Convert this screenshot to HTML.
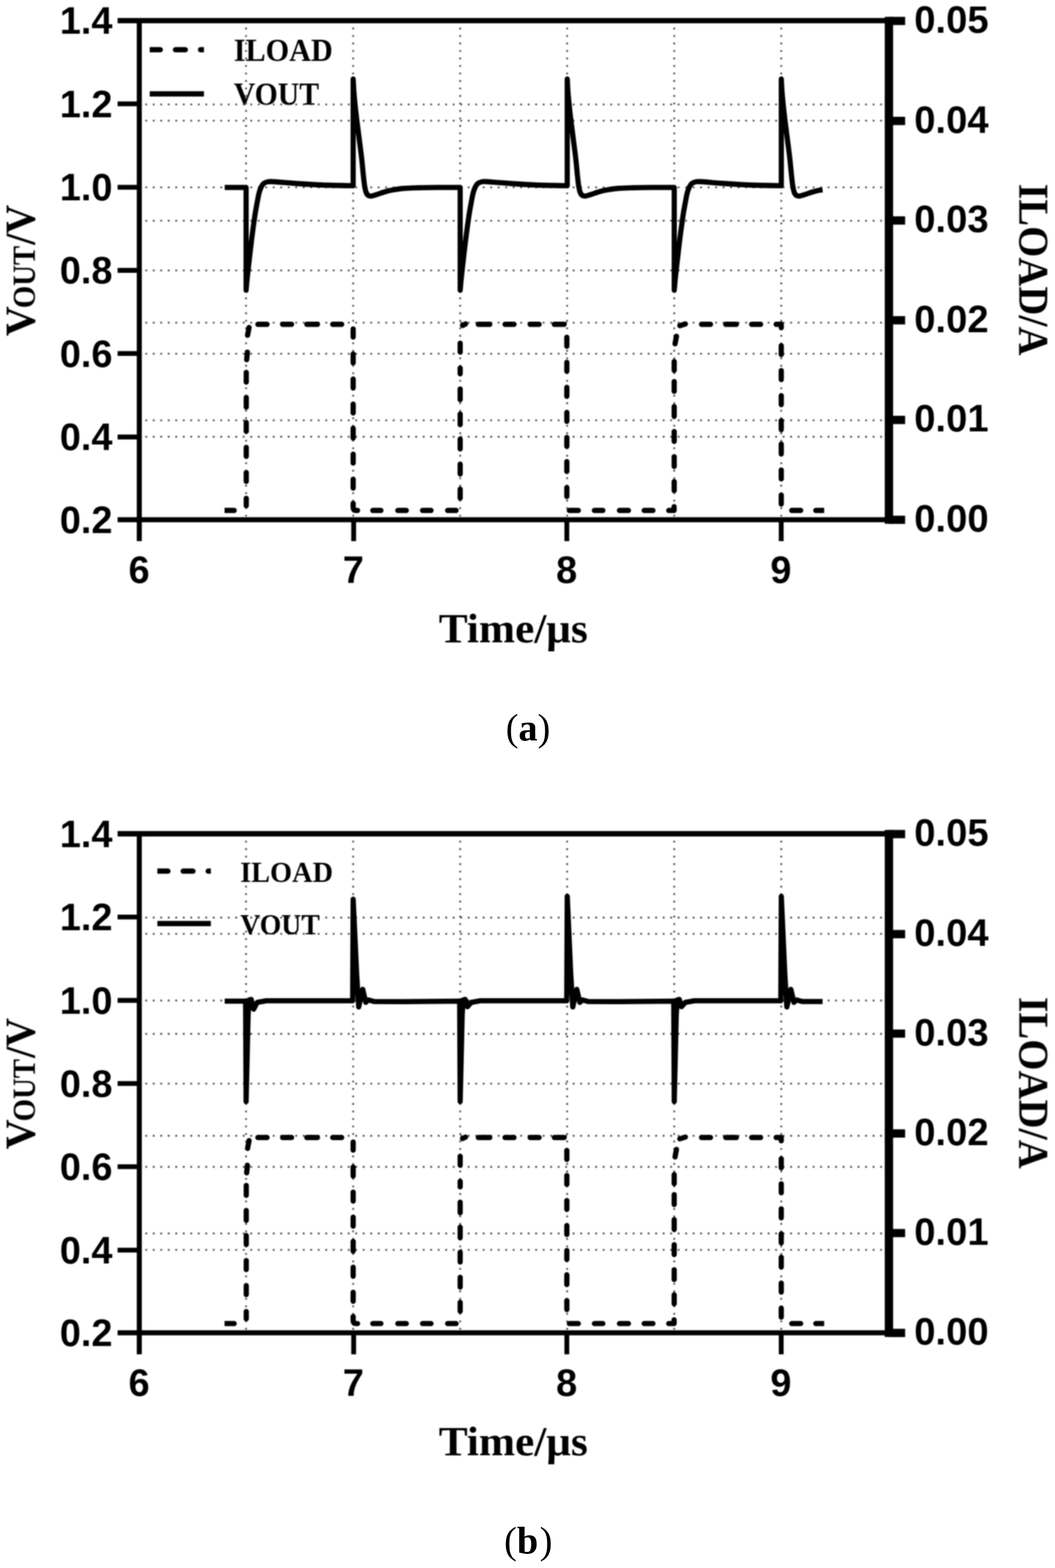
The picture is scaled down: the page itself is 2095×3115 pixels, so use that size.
<!DOCTYPE html>
<html lang="en">
<head>
<meta charset="utf-8">
<title>Load transient response</title>
<style>
html,body{margin:0;padding:0;background:#fff;}
body{width:2095px;height:3115px;overflow:hidden;}
svg{display:block;}
text{fill:#000;}
</style>
</head>
<body>
<svg width="2095" height="3115" viewBox="0 0 2095 3115">
<defs><filter id="soft" filterUnits="userSpaceOnUse" x="0" y="0" width="2095" height="1340" color-interpolation-filters="sRGB"><feGaussianBlur stdDeviation="0.85"/></filter></defs>
<rect width="2095" height="3115" fill="#fff"/>
<g transform="translate(0 0)">
<g filter="url(#soft)">
<clipPath id="lca"><rect x="297.3" y="88.8" width="107.69999999999999" height="20"/></clipPath>
<path d="M298.8 98.8H425" clip-path="url(#lca)" fill="none" stroke="#000" stroke-width="10.5" stroke-linecap="round" stroke-dasharray="19.5 30.2"/>
<path d="M297.3 186.4H405" fill="none" stroke="#000" stroke-width="10.5"/>
<text transform="translate(464.2 120.6) scale(0.945 1)" font-family="'Liberation Serif', serif" font-weight="700" font-size="63.5">ILOAD</text>
<text transform="translate(464.2 208.2) scale(0.93 1)" font-family="'Liberation Serif', serif" font-weight="700" font-size="63.5">VOUT</text>
<path d="M488.6 54.8V1026 M701.3 54.8V1026 M913.8 54.8V1026 M1126.2 54.8V1026 M1338.8 54.8V1026 M1551.4 54.8V1026 M288.6 207.5H1756 M288.6 239.8H1756 M288.6 372.2H1756 M288.6 438.5H1756 M288.6 537.3H1756 M288.6 641.0H1756 M288.6 702.7H1756 M288.6 835.0H1756 M288.6 867.6H1756" fill="none" stroke="#505050" stroke-width="3.6" stroke-dasharray="3.6 11.29"/>
<path d="M740.3 1014.0H756.4 M790.0 1014.0H806.8 M839.1 1014.0H855.9 M888.9 1014.0H905.7 M1130.6 1014.0H1148.4 M1180.4 1014.0H1197.1 M1230.1 1014.0H1247.9 M1279.2 1014.0H1296.6 M1572.2 1014.0H1590.0 M512.1 644.3H530.3 M561.2 644.3H579.0 M609.3 644.3H630.4 M660.7 644.3H678.5 M949.9 644.3H972.6 M1002.9 644.3H1020.7 M1052.7 644.3H1070.5 M1100.8 644.3H1120.2 M1393.1 644.3H1410.9 M1441.2 644.3H1462.3 M1492.6 644.3H1510.4 M489.0 990.0V1004.5 M489.0 938.6V956.4 M489.0 888.8V906.6 M489.0 839.1V856.9 M489.0 789.4V808.8 M489.0 739.6V759.1 M701.3 653.4V669.5 M701.3 703.1V720.9 M701.3 752.9V770.7 M701.3 802.6V820.4 M701.3 850.7V870.2 M701.3 902.1V919.9 M701.3 951.9V969.6 M913.8 971.7V989.5 M913.8 922.0V941.5 M913.8 872.3V891.7 M913.8 822.5V843.6 M913.8 772.8V793.9 M913.8 731.3V742.5 M913.8 681.6V699.4 M1125.6 670.0V687.8 M1125.6 719.7V737.5 M1125.6 769.5V787.2 M1125.6 819.2V837.0 M1125.6 868.9V886.7 M1125.6 917.0V936.5 M1125.6 968.4V986.2 M1338.8 956.8V974.6 M1338.8 907.1V926.5 M1338.8 857.3V876.8 M1338.8 807.6V827.0 M1338.8 757.9V777.3 M1338.8 718.1V735.8 M1551.4 686.6V704.3 M1551.4 736.3V754.1 M1551.4 786.0V803.8 M1551.4 835.8V853.6 M1551.4 882.2V901.7 M1551.4 933.6V951.4 M1551.4 983.4V1001.2 M489.8 714.5L491.3 699.6 M491.6 666L494.6 650.5 M701.3 1000L701.3 1008Q701.3 1014.0 706.5 1014.0L710 1014.0 M918.5 646.5L924.5 643.5 M1328 1014.0L1338.6 1014.0L1338.6 1006.5 M1340.5 683L1343.3 668 M1350 647L1361 643.5 M1541.3 644.3L1551.4 644.3L1551.4 651" fill="none" stroke="#000" stroke-width="10.4" stroke-linecap="round" stroke-linejoin="round"/>
<path d="M445.9 1014.0H465M1620 1014.0H1636.6" fill="none" stroke="#000" stroke-width="10.4"/>
<circle cx="465" cy="1014.0" r="5.2"/><circle cx="1620" cy="1014.0" r="5.2"/>
<path d="M446.2 372.3 L488.7 372.3 L488.7 576.5 C489.2 570.9 490.0 560.1 491.9 543.0 C493.8 525.9 497.5 493.1 499.9 474.0 C502.3 454.9 504.4 440.0 506.1 428.5 C507.8 417.0 508.8 412.3 510.2 405.0 C511.6 397.7 512.8 390.1 514.2 384.5 C515.6 378.9 517.1 374.8 518.7 371.5 C520.3 368.2 521.6 366.2 523.7 364.5 C525.8 362.8 528.1 361.8 531.4 361.2 C534.7 360.6 534.2 360.4 543.7 361.0 C553.2 361.6 572.9 363.4 588.7 364.5 C604.5 365.6 619.9 366.8 638.7 367.5 C657.5 368.2 690.9 368.8 701.3 369.0 L701.3 157 C701.6 162.0 702.2 176.2 703.1 187.0 C704.0 197.8 705.1 208.5 706.6 222.0 C708.1 235.5 710.4 252.7 712.3 268.0 C714.2 283.3 716.6 300.7 718.1 314.0 C719.6 327.3 720.5 338.5 721.5 348.0 C722.5 357.5 723.2 364.8 724.3 371.0 C725.4 377.2 726.4 381.9 728.3 385.0 C730.2 388.1 732.7 389.2 735.7 389.5 C738.7 389.8 742.0 388.2 746.3 387.0 C750.6 385.8 756.3 383.5 761.3 382.0 C766.3 380.5 770.0 379.2 776.3 378.0 C782.6 376.8 790.1 375.3 799.3 374.5 C808.5 373.7 819.3 373.4 831.3 373.0 C843.3 372.6 857.6 372.5 871.3 372.4 C885.0 372.3 906.6 372.3 913.7 372.3 L913.8 372.3 L913.8 576.5 C914.3 570.9 915.1 560.1 917.0 543.0 C918.9 525.9 922.6 493.1 925.0 474.0 C927.4 454.9 929.5 440.0 931.2 428.5 C932.9 417.0 933.9 412.3 935.3 405.0 C936.6 397.7 937.9 390.1 939.3 384.5 C940.7 378.9 942.2 374.8 943.8 371.5 C945.4 368.2 946.7 366.2 948.8 364.5 C950.9 362.8 953.2 361.8 956.5 361.2 C959.8 360.6 959.2 360.4 968.8 361.0 C978.3 361.6 998.0 363.4 1013.8 364.5 C1029.6 365.6 1045.0 366.8 1063.8 367.5 C1082.6 368.2 1116.0 368.8 1126.4 369.0 L1126.4 157 C1126.7 162.0 1127.3 176.2 1128.2 187.0 C1129.1 197.8 1130.2 208.5 1131.7 222.0 C1133.2 235.5 1135.5 252.7 1137.4 268.0 C1139.3 283.3 1141.7 300.7 1143.2 314.0 C1144.7 327.3 1145.6 338.5 1146.6 348.0 C1147.6 357.5 1148.3 364.8 1149.4 371.0 C1150.5 377.2 1151.5 381.9 1153.4 385.0 C1155.3 388.1 1157.8 389.2 1160.8 389.5 C1163.8 389.8 1167.1 388.2 1171.4 387.0 C1175.7 385.8 1181.4 383.5 1186.4 382.0 C1191.4 380.5 1195.1 379.2 1201.4 378.0 C1207.7 376.8 1215.2 375.3 1224.4 374.5 C1233.6 373.7 1244.4 373.4 1256.4 373.0 C1268.4 372.6 1282.7 372.5 1296.4 372.4 C1310.1 372.3 1331.7 372.3 1338.8 372.3 L1338.9 372.3 L1338.9 576.5 C1339.4 570.9 1340.2 560.1 1342.1 543.0 C1344.0 525.9 1347.7 493.1 1350.1 474.0 C1352.5 454.9 1354.6 440.0 1356.3 428.5 C1358.0 417.0 1359.1 412.3 1360.4 405.0 C1361.8 397.7 1363.0 390.1 1364.4 384.5 C1365.8 378.9 1367.3 374.8 1368.9 371.5 C1370.5 368.2 1371.8 366.2 1373.9 364.5 C1376.0 362.8 1378.3 361.8 1381.6 361.2 C1384.9 360.6 1384.4 360.4 1393.9 361.0 C1403.5 361.6 1423.1 363.4 1438.9 364.5 C1454.7 365.6 1470.1 366.8 1488.9 367.5 C1507.7 368.2 1541.1 368.8 1551.5 369.0 L1551.5 157 C1551.8 162.0 1552.4 176.2 1553.3 187.0 C1554.2 197.8 1555.3 208.5 1556.8 222.0 C1558.3 235.5 1560.6 252.7 1562.5 268.0 C1564.4 283.3 1566.8 300.7 1568.3 314.0 C1569.8 327.3 1570.7 338.5 1571.7 348.0 C1572.7 357.5 1573.4 364.8 1574.5 371.0 C1575.6 377.2 1576.6 381.9 1578.5 385.0 C1580.4 388.1 1582.9 389.2 1585.9 389.5 C1588.9 389.8 1592.2 388.2 1596.5 387.0 C1600.8 385.8 1606.5 383.5 1611.5 382.0 C1616.5 380.5 1622.8 378.8 1626.5 378.0 C1630.2 377.2 1632.3 377.4 1633.5 377.3" fill="none" stroke="#000" stroke-width="10.3" stroke-linejoin="round" stroke-linecap="butt"/>
<path d="M233.5 41.0H1773" fill="none" stroke="#000" stroke-width="10.6"/>
<path d="M276.6 36.1V1075" fill="none" stroke="#000" stroke-width="10"/>
<path d="M233.5 1032.4H1773" fill="none" stroke="#000" stroke-width="10"/>
<path d="M1765.2 33.4V1040.6" fill="none" stroke="#000" stroke-width="16.6"/>
<path d="M233.5 206.3H277 M233.5 372.0H277 M233.5 537.1H277 M233.5 702.3H277 M233.5 868.1H277 M702.3 1032V1075 M1125.6 1032V1075 M1551.3 1032V1075" fill="none" stroke="#000" stroke-width="9.6"/>
<path d="M1765 41.6H1797.4 M1765 240.3H1797.4 M1765 438.0H1797.4 M1765 636.3H1797.4 M1765 834.2H1797.4 M1765 1032.6H1797.4" fill="none" stroke="#000" stroke-width="16.4"/>
<text transform="translate(223.4 67.3) scale(1 1)" text-anchor="end" font-family="'Liberation Sans', sans-serif" font-weight="700" font-size="75.3">1.4</text>
<text transform="translate(223.4 232.5) scale(1 1)" text-anchor="end" font-family="'Liberation Sans', sans-serif" font-weight="700" font-size="75.3">1.2</text>
<text transform="translate(223.4 398.2) scale(1 1)" text-anchor="end" font-family="'Liberation Sans', sans-serif" font-weight="700" font-size="75.3">1.0</text>
<text transform="translate(223.4 563.3) scale(1 1)" text-anchor="end" font-family="'Liberation Sans', sans-serif" font-weight="700" font-size="75.3">0.8</text>
<text transform="translate(223.4 728.5) scale(1 1)" text-anchor="end" font-family="'Liberation Sans', sans-serif" font-weight="700" font-size="75.3">0.6</text>
<text transform="translate(223.4 894.3) scale(1 1)" text-anchor="end" font-family="'Liberation Sans', sans-serif" font-weight="700" font-size="75.3">0.4</text>
<text transform="translate(223.4 1058.6) scale(1 1)" text-anchor="end" font-family="'Liberation Sans', sans-serif" font-weight="700" font-size="75.3">0.2</text>
<text transform="translate(1815.4 64.8) scale(1 1)" font-family="'Liberation Sans', sans-serif" font-weight="700" font-size="75.9">0.05</text>
<text transform="translate(1815.4 263.5) scale(1 1)" font-family="'Liberation Sans', sans-serif" font-weight="700" font-size="75.9">0.04</text>
<text transform="translate(1815.4 461.2) scale(1 1)" font-family="'Liberation Sans', sans-serif" font-weight="700" font-size="75.9">0.03</text>
<text transform="translate(1815.4 659.5) scale(1 1)" font-family="'Liberation Sans', sans-serif" font-weight="700" font-size="75.9">0.02</text>
<text transform="translate(1815.4 857.4) scale(1 1)" font-family="'Liberation Sans', sans-serif" font-weight="700" font-size="75.9">0.01</text>
<text transform="translate(1815.4 1055.8) scale(1 1)" font-family="'Liberation Sans', sans-serif" font-weight="700" font-size="75.9">0.00</text>
<text transform="translate(276.1 1157.5) scale(1 1)" text-anchor="middle" font-family="'Liberation Sans', sans-serif" font-weight="700" font-size="75.3">6</text>
<text transform="translate(701.8 1157.5) scale(1 1)" text-anchor="middle" font-family="'Liberation Sans', sans-serif" font-weight="700" font-size="75.3">7</text>
<text transform="translate(1125.1 1157.5) scale(1 1)" text-anchor="middle" font-family="'Liberation Sans', sans-serif" font-weight="700" font-size="75.3">8</text>
<text transform="translate(1550.8 1157.5) scale(1 1)" text-anchor="middle" font-family="'Liberation Sans', sans-serif" font-weight="700" font-size="75.3">9</text>
<text x="1019.2" y="1275.6" text-anchor="middle" font-family="'Liberation Serif', serif" font-weight="700" font-size="83.5" textLength="296" lengthAdjust="spacingAndGlyphs">Time/μs</text>
<g transform="translate(69.2 667.8) rotate(-90)" font-family="'Liberation Serif', serif" font-weight="700"><text x="0" y="0" font-size="84" textLength="59.5" lengthAdjust="spacingAndGlyphs">V</text><text x="55.5" y="0" font-size="63.5" textLength="124" lengthAdjust="spacingAndGlyphs">OUT</text><text x="181.5" y="0" font-size="84" textLength="79.5" lengthAdjust="spacingAndGlyphs">/V</text></g>
<text transform="translate(2023.6 365) rotate(90)" font-family="'Liberation Serif', serif" font-weight="700" font-size="84" textLength="341.3" lengthAdjust="spacingAndGlyphs">ILOAD/A</text>
</g>
<text y="1470.8" font-family="'Liberation Serif', serif" font-size="76"><tspan x="1004.3">(</tspan><tspan x="1029.6" font-weight="700">a</tspan><tspan x="1067.6">)</tspan></text>
</g>
<g transform="translate(0 1615.4)">
<g filter="url(#soft)">
<path d="M488.6 54.8V1026 M701.3 54.8V1026 M913.8 54.8V1026 M1126.2 54.8V1026 M1338.8 54.8V1026 M1551.4 54.8V1026 M288.6 207.5H1756 M288.6 239.8H1756 M288.6 372.2H1756 M288.6 438.5H1756 M288.6 537.3H1756 M288.6 641.0H1756 M288.6 702.7H1756 M288.6 835.0H1756 M288.6 867.6H1756" fill="none" stroke="#505050" stroke-width="3.6" stroke-dasharray="3.6 11.29"/>
<clipPath id="lcb"><rect x="312.5" y="105.2" width="106.19999999999999" height="20"/></clipPath>
<path d="M314.0 115.2H438.7" clip-path="url(#lcb)" fill="none" stroke="#000" stroke-width="10.5" stroke-linecap="round" stroke-dasharray="19.5 30.2"/>
<path d="M312.5 219.4H418.7" fill="none" stroke="#000" stroke-width="10.5"/>
<text transform="translate(477 137) scale(0.995 1)" font-family="'Liberation Serif', serif" font-weight="700" font-size="56.5">ILOAD</text>
<text transform="translate(477 241) scale(0.975 1)" font-family="'Liberation Serif', serif" font-weight="700" font-size="56.5">VOUT</text>
<path d="M740.3 1014.0H756.4 M790.0 1014.0H806.8 M839.1 1014.0H855.9 M888.9 1014.0H905.7 M1130.6 1014.0H1148.4 M1180.4 1014.0H1197.1 M1230.1 1014.0H1247.9 M1279.2 1014.0H1296.6 M1572.2 1014.0H1590.0 M512.1 644.3H530.3 M561.2 644.3H579.0 M609.3 644.3H630.4 M660.7 644.3H678.5 M949.9 644.3H972.6 M1002.9 644.3H1020.7 M1052.7 644.3H1070.5 M1100.8 644.3H1120.2 M1393.1 644.3H1410.9 M1441.2 644.3H1462.3 M1492.6 644.3H1510.4 M489.0 990.0V1004.5 M489.0 938.6V956.4 M489.0 888.8V906.6 M489.0 839.1V856.9 M489.0 789.4V808.8 M489.0 739.6V759.1 M701.3 653.4V669.5 M701.3 703.1V720.9 M701.3 752.9V770.7 M701.3 802.6V820.4 M701.3 850.7V870.2 M701.3 902.1V919.9 M701.3 951.9V969.6 M913.8 971.7V989.5 M913.8 922.0V941.5 M913.8 872.3V891.7 M913.8 822.5V843.6 M913.8 772.8V793.9 M913.8 731.3V742.5 M913.8 681.6V699.4 M1125.6 670.0V687.8 M1125.6 719.7V737.5 M1125.6 769.5V787.2 M1125.6 819.2V837.0 M1125.6 868.9V886.7 M1125.6 917.0V936.5 M1125.6 968.4V986.2 M1338.8 956.8V974.6 M1338.8 907.1V926.5 M1338.8 857.3V876.8 M1338.8 807.6V827.0 M1338.8 757.9V777.3 M1338.8 718.1V735.8 M1551.4 686.6V704.3 M1551.4 736.3V754.1 M1551.4 786.0V803.8 M1551.4 835.8V853.6 M1551.4 882.2V901.7 M1551.4 933.6V951.4 M1551.4 983.4V1001.2 M489.8 714.5L491.3 699.6 M491.6 666L494.6 650.5 M701.3 1000L701.3 1008Q701.3 1014.0 706.5 1014.0L710 1014.0 M918.5 646.5L924.5 643.5 M1328 1014.0L1338.6 1014.0L1338.6 1006.5 M1340.5 683L1343.3 668 M1350 647L1361 643.5 M1541.3 644.3L1551.4 644.3L1551.4 651" fill="none" stroke="#000" stroke-width="10.4" stroke-linecap="round" stroke-linejoin="round"/>
<path d="M445.9 1014.0H465M1620 1014.0H1636.6" fill="none" stroke="#000" stroke-width="10.4"/>
<circle cx="465" cy="1014.0" r="5.2"/><circle cx="1620" cy="1014.0" r="5.2"/>
<path d="M446.2 373.5 L487.7 373.5 L488.7 573 L492.7 400 L494.7 371 L498.7 370 L503.7 389.5 L510.7 376 L528.7 372.7 L700.3 372.7 L701.3 171 L708.3 320 L712.3 385 L720.3 350 L726.3 376 L731.3 371 L743.3 374.3 L801.3 374.5 L912.3 373.5 L912.8 373.5 L913.8 573 L917.8 400 L919.8 371 L923.8 370 L928.3 384.5 L935.8 376 L953.8 372.7 L1125.4 372.7 L1126.4 165.3 L1133.4 320 L1137.4 385 L1145.4 350 L1151.4 376 L1156.4 371 L1168.4 374.3 L1226.4 374.5 L1337.4 373.5 L1337.9 373.5 L1338.9 573 L1342.9 400 L1344.9 371 L1348.9 370 L1353.4 384.5 L1360.9 376 L1378.9 372.7 L1550.5 372.7 L1551.5 165.3 L1558.5 320 L1562.5 385 L1570.5 350 L1576.5 376 L1581.5 371 L1593.5 374.3 L1633.5 374.3" fill="none" stroke="#000" stroke-width="10.3" stroke-linejoin="round" stroke-linecap="butt"/>
<path d="M233.5 41.0H1773" fill="none" stroke="#000" stroke-width="10.6"/>
<path d="M276.6 36.1V1075" fill="none" stroke="#000" stroke-width="10"/>
<path d="M233.5 1032.4H1773" fill="none" stroke="#000" stroke-width="10"/>
<path d="M1765.2 33.4V1040.6" fill="none" stroke="#000" stroke-width="16.6"/>
<path d="M233.5 206.3H277 M233.5 372.0H277 M233.5 537.1H277 M233.5 702.3H277 M233.5 868.1H277 M702.3 1032V1075 M1125.6 1032V1075 M1551.3 1032V1075" fill="none" stroke="#000" stroke-width="9.6"/>
<path d="M1765 41.6H1797.4 M1765 240.3H1797.4 M1765 438.0H1797.4 M1765 636.3H1797.4 M1765 834.2H1797.4 M1765 1032.6H1797.4" fill="none" stroke="#000" stroke-width="16.4"/>
<text transform="translate(223.4 67.3) scale(1 1)" text-anchor="end" font-family="'Liberation Sans', sans-serif" font-weight="700" font-size="75.3">1.4</text>
<text transform="translate(223.4 232.5) scale(1 1)" text-anchor="end" font-family="'Liberation Sans', sans-serif" font-weight="700" font-size="75.3">1.2</text>
<text transform="translate(223.4 398.2) scale(1 1)" text-anchor="end" font-family="'Liberation Sans', sans-serif" font-weight="700" font-size="75.3">1.0</text>
<text transform="translate(223.4 563.3) scale(1 1)" text-anchor="end" font-family="'Liberation Sans', sans-serif" font-weight="700" font-size="75.3">0.8</text>
<text transform="translate(223.4 728.5) scale(1 1)" text-anchor="end" font-family="'Liberation Sans', sans-serif" font-weight="700" font-size="75.3">0.6</text>
<text transform="translate(223.4 894.3) scale(1 1)" text-anchor="end" font-family="'Liberation Sans', sans-serif" font-weight="700" font-size="75.3">0.4</text>
<text transform="translate(223.4 1058.6) scale(1 1)" text-anchor="end" font-family="'Liberation Sans', sans-serif" font-weight="700" font-size="75.3">0.2</text>
<text transform="translate(1815.4 64.8) scale(1 1)" font-family="'Liberation Sans', sans-serif" font-weight="700" font-size="75.9">0.05</text>
<text transform="translate(1815.4 263.5) scale(1 1)" font-family="'Liberation Sans', sans-serif" font-weight="700" font-size="75.9">0.04</text>
<text transform="translate(1815.4 461.2) scale(1 1)" font-family="'Liberation Sans', sans-serif" font-weight="700" font-size="75.9">0.03</text>
<text transform="translate(1815.4 659.5) scale(1 1)" font-family="'Liberation Sans', sans-serif" font-weight="700" font-size="75.9">0.02</text>
<text transform="translate(1815.4 857.4) scale(1 1)" font-family="'Liberation Sans', sans-serif" font-weight="700" font-size="75.9">0.01</text>
<text transform="translate(1815.4 1055.8) scale(1 1)" font-family="'Liberation Sans', sans-serif" font-weight="700" font-size="75.9">0.00</text>
<text transform="translate(276.1 1157.5) scale(1 1)" text-anchor="middle" font-family="'Liberation Sans', sans-serif" font-weight="700" font-size="75.3">6</text>
<text transform="translate(701.8 1157.5) scale(1 1)" text-anchor="middle" font-family="'Liberation Sans', sans-serif" font-weight="700" font-size="75.3">7</text>
<text transform="translate(1125.1 1157.5) scale(1 1)" text-anchor="middle" font-family="'Liberation Sans', sans-serif" font-weight="700" font-size="75.3">8</text>
<text transform="translate(1550.8 1157.5) scale(1 1)" text-anchor="middle" font-family="'Liberation Sans', sans-serif" font-weight="700" font-size="75.3">9</text>
<text x="1019.2" y="1275.6" text-anchor="middle" font-family="'Liberation Serif', serif" font-weight="700" font-size="83.5" textLength="296" lengthAdjust="spacingAndGlyphs">Time/μs</text>
<g transform="translate(69.2 667.8) rotate(-90)" font-family="'Liberation Serif', serif" font-weight="700"><text x="0" y="0" font-size="84" textLength="59.5" lengthAdjust="spacingAndGlyphs">V</text><text x="55.5" y="0" font-size="63.5" textLength="124" lengthAdjust="spacingAndGlyphs">OUT</text><text x="181.5" y="0" font-size="84" textLength="79.5" lengthAdjust="spacingAndGlyphs">/V</text></g>
<text transform="translate(2023.6 365) rotate(90)" font-family="'Liberation Serif', serif" font-weight="700" font-size="84" textLength="341.3" lengthAdjust="spacingAndGlyphs">ILOAD/A</text>
</g>
<text y="1470.8" font-family="'Liberation Serif', serif" font-size="76"><tspan x="1001.0">(</tspan><tspan x="1026.4" font-weight="700">b</tspan><tspan x="1071.8">)</tspan></text>
</g>
</svg>
</body>
</html>
